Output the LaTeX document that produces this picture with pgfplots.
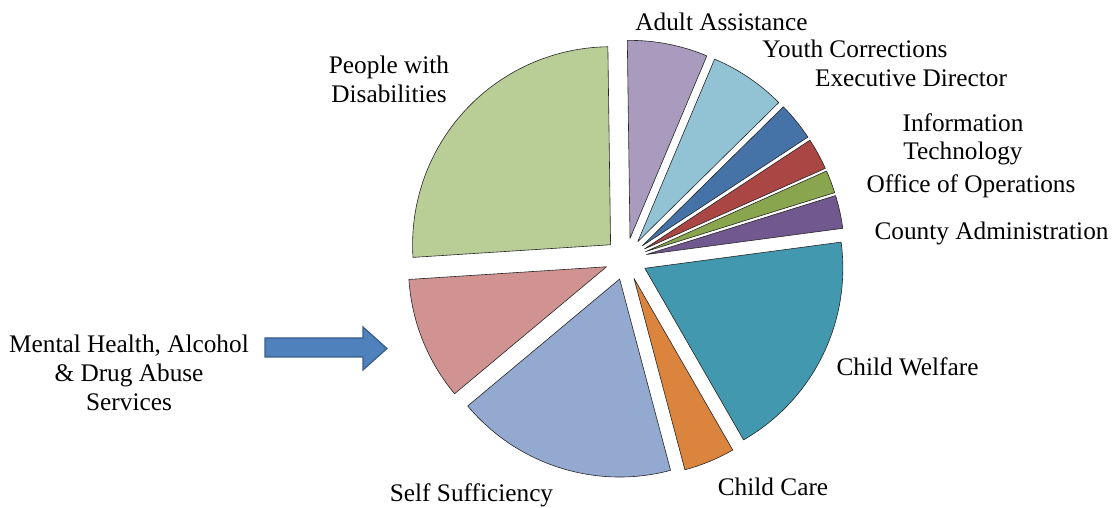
\documentclass[border=0pt]{standalone}
\usepackage{pgfplots}
\pgfplotsset{compat=1.18}
\usepackage{fontspec}
\setmainfont{Liberation Serif}
\definecolor{cExec}{HTML}{4572A7}
\definecolor{cIT}{HTML}{AA4643}
\definecolor{cOps}{HTML}{89A54E}
\definecolor{cCounty}{HTML}{71588F}
\definecolor{cCW}{HTML}{4198AF}
\definecolor{cCC}{HTML}{DB843D}
\definecolor{cSS}{HTML}{93A9CF}
\definecolor{cMH}{HTML}{D19392}
\definecolor{cPWD}{HTML}{B9CD96}
\definecolor{cAdult}{HTML}{A99BBD}
\definecolor{cYouth}{HTML}{92C3D5}
\definecolor{arrowfill}{HTML}{4F81BD}
\definecolor{arrowdraw}{HTML}{385D8A}
\newcommand\lbl{\fontsize{25.3}{29}\selectfont}
\begin{document}
\begin{tikzpicture}
\begin{axis}[hide axis, scale only axis, width=1115pt, height=508pt,
  xmin=0, xmax=1115, ymin=0, ymax=508, clip=false]
\path (axis cs:0,0) rectangle (axis cs:1115,508);
% slice values (percent), clockwise from 44.6 degrees
\pgfplotsextra{%
  \gdef\cum{44.6}%
  \foreach \v/\c in {3.14/cExec, 2.58/cIT, 1.86/cOps, 2.70/cCounty, 18.80/cCW, 4.17/cCC, 18.06/cSS, 10.06/cMH, 25.80/cPWD, 6.56/cAdult, 6.27/cYouth}{%
    \pgfmathsetmacro\s{\cum}%
    \pgfmathsetmacro\e{\cum-3.6*\v}%
    \pgfmathsetmacro\m{(\s+\e)/2}%
    \filldraw[fill=\c, draw=black!85, line width=0.6pt, line join=round]
      (axis cs:626,249) ++(\m:21pt) -- ++(\s:198pt)
      arc[start angle=\s, end angle=\e, radius=198pt] -- cycle;
    \xdef\cum{\e}%
  }%
}
% arrow
\filldraw[fill=arrowfill, draw=arrowdraw, line width=1.2pt, line join=miter]
  (axis cs:265,170) -- (axis cs:363,170) -- (axis cs:363,181) -- (axis cs:387,159.5)
  -- (axis cs:363,138) -- (axis cs:363,151) -- (axis cs:265,151) -- cycle;
% labels
\begin{scope}[every node/.style={anchor=base, font=\lbl, inner sep=0pt}]
\node at (axis cs:721.5,477) {Adult Assistance};
\node at (axis cs:855,450) {Youth Corrections};
\node at (axis cs:911,421) {Executive Director};
\node at (axis cs:963,376) {Information};
\node at (axis cs:963,348) {Technology};
\node at (axis cs:971,315) {Office of Operations};
\node at (axis cs:991.5,268) {County Administration};
\node at (axis cs:907.5,132) {Child Welfare};
\node at (axis cs:773,12) {Child Care};
\node at (axis cs:471.5,6) {Self Sufficiency};
\node at (axis cs:129,155) {Mental Health, Alcohol};
\node at (axis cs:129,126) {\& Drug Abuse};
\node at (axis cs:129,97) {Services};
\node at (axis cs:389,434) {People with};
\node at (axis cs:389,405) {Disabilities};
\end{scope}
\end{axis}
\end{tikzpicture}
\end{document}
